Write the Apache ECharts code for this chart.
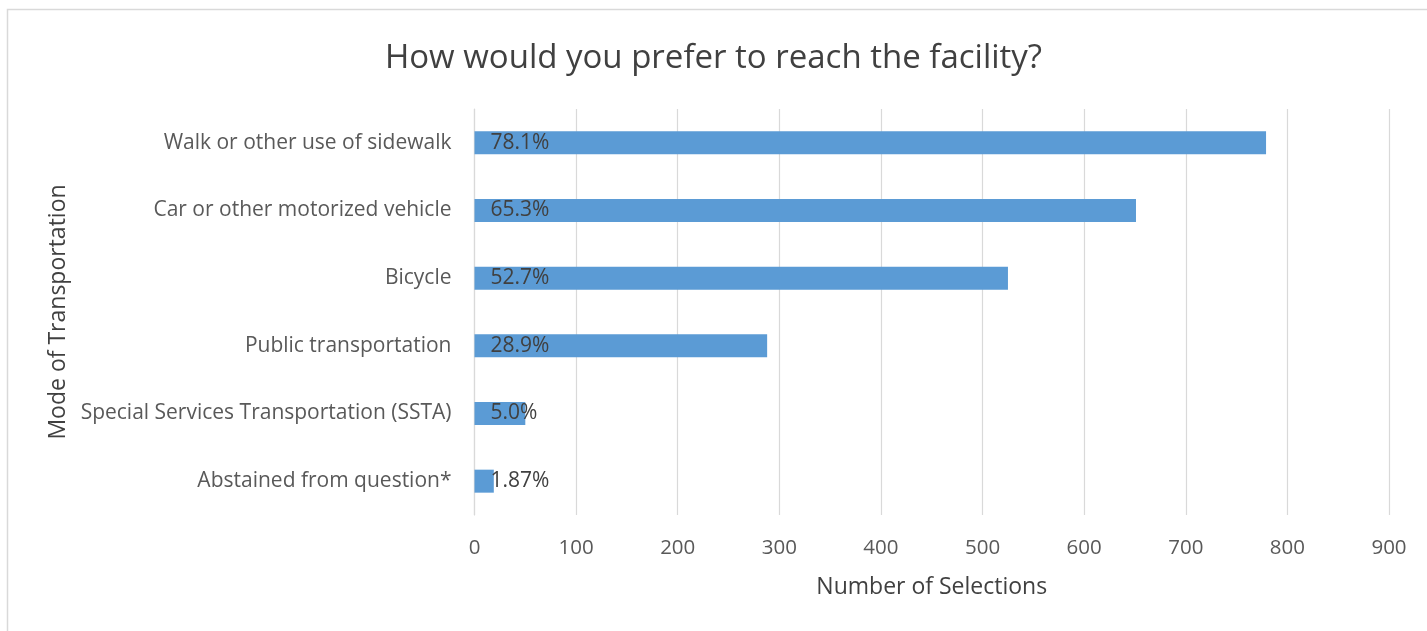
<!DOCTYPE html>
<html>
<head>
<meta charset="utf-8">
<script src="https://cdn.jsdelivr.net/npm/echarts@6/dist/echarts.min.js"></script>
<style>html,body{margin:0;padding:0;background:#fff}#c{width:1427px;height:631px}</style>
</head>
<body>
<div id="c"></div>
<script>
const categories = ["Walk or other use of sidewalk","Car or other motorized vehicle","Bicycle","Public transportation","Special Services Transportation (SSTA)","Abstained from question*"];
const selections = [779, 651, 525, 288, 50, 19];
const percentLabels = ["78.1%","65.3%","52.7%","28.9%","5.0%","1.87%"];
const xTicks = [0,100,200,300,400,500,600,700,800,900];

const FONT = "'Open Sans', 'Noto Sans', sans-serif";
const chart = echarts.init(document.getElementById('c'), null, {renderer:'canvas'});
chart.setOption({
  animation:false,
  backgroundColor:'#fff',
  title:{
    text:'How would you prefer to reach the facility?',
    left:'center', top:37,
    textStyle:{fontFamily:FONT, fontSize:33, fontWeight:'normal', color:'#404040'}
  },
  graphic:[{type:'rect', shape:{x:7.5,y:9.5,width:1500,height:700}, style:{fill:'none', stroke:'#d9d9d9', lineWidth:1.5}, silent:true, z:-1}],
  grid:{left:474.5, right:38, top:109, bottom:116},
  xAxis:{
    type:'value', min:xTicks[0], max:xTicks[xTicks.length-1], interval:100,
    name:'Number of Selections', nameLocation:'middle', nameGap:61,
    nameTextStyle:{fontFamily:FONT, fontSize:23, color:'#404040'},
    axisLine:{show:false}, axisTick:{show:false},
    axisLabel:{fontFamily:FONT, fontSize:20.5, color:'#595959', margin:23},
    splitLine:{show:true, lineStyle:{color:'#d9d9d9', width:1.2}}
  },
  yAxis:{
    type:'category', data:categories, inverse:true,
    name:'Mode of Transportation', nameLocation:'middle', nameGap:402, nameRotate:90,
    nameTextStyle:{fontFamily:FONT, fontSize:23, color:'#404040'},
    axisLine:{show:true, lineStyle:{color:'#d9d9d9', width:1.2}}, axisTick:{show:false},
    axisLabel:{fontFamily:FONT, fontSize:21, color:'#595959', margin:23}
  },
  series:[{
    type:'bar', data:selections, barWidth:23,
    itemStyle:{color:'#5b9bd5'},
    label:{show:true, position:'insideLeft', distance:16,
      formatter:p=>percentLabels[p.dataIndex],
      fontFamily:FONT, fontSize:21, color:'#404040'}
  }]
});
</script>
</body>
</html>
